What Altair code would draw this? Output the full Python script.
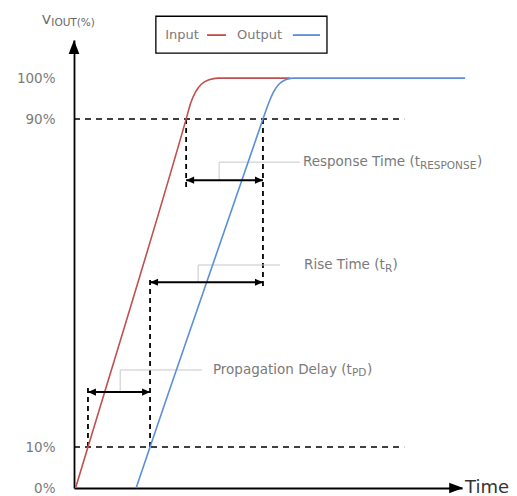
import altair as alt
import pandas as pd

# ---------------- values ----------------
# time axis in arbitrary units (0 = origin, 100 = end of axis), level in %
input_t = [0.4, 3.6, 28.9, 30.1, 31.3, 32.8, 34.8, 37.1, 55.7]
input_v = [0, 10, 90, 94, 96.6, 98.5, 99.6, 100, 100]
output_t = [16.0, 19.6, 48.7, 50.2, 51.4, 52.8, 54.5, 56.4, 100.8]
output_v = [0, 10, 90, 94, 96.6, 98.5, 99.6, 100, 100]

tick_values = [0, 10, 90, 100]
threshold_levels = [10, 90]
threshold_end = 85.1

# crossing times of the 10 % / 90 % thresholds
in10, out10, in90, out90 = 3.6, 19.6, 28.9, 48.7

# dashed drop lines
drop_t = [in10, out10, in90, out90]
drop_from = [10, 10, 90, 90]
drop_to = [24.9, 51.2, 73.4, 49.3]

# measurement arrows (Propagation, Rise, Response)
arrow_start = [in10, out10, in90]
arrow_end = [out10, out90, out90]
arrow_level = [23.4, 50.2, 75.1]

# leader lines and labels
leader_t = [11.9, 32.0, 37.4]
leader_level = [28.8, 54.4, 79.5]
leader_end = [33.0, 53.1, 58.2]
label_t = [35.8, 59.3, 59.0]
label_main = ["Propagation Delay (t", "Rise Time (t", "Response Time (t"]
label_sub = ["PD", "R", "RESPONSE"]

# legend box
legend_t = [21.1, 65.2]
legend_v = [106.1, 115.1]
legend_level = 110.5
legend_names = ["Input", "Output"]
legend_text_t = [23.5, 42.0]
swatch_start = [34.3, 56.4]
swatch_end = [39.2, 63.4]

# axis decorations
ytitle_pos = (-8.25, 114.1)
y_tip = (0, 109.3)
x_tip = (100.3, 0)
time_pos = (100.8, 0)

RED = "#c0504d"
BLUE = "#5b8fd8"
GRAY_TXT = "#7a7a7a"
LEADER = "#c8c8c8"
FONT = "DejaVu Sans"

# ---------------- scales / axes ----------------
xs = alt.Scale(domain=[0, 100], nice=False, zero=False)
ys = alt.Scale(domain=[0, 109.3], nice=False, zero=False)
xaxis = alt.Axis(labels=False, ticks=False, grid=False, title=None,
                 domainColor="black", domainWidth=1.8)
yaxis = alt.Axis(values=tick_values, labelExpr="datum.value + '%'", ticks=False,
                 grid=False, title=None, domainColor="black", domainWidth=1.8,
                 labelPadding=19, labelFontSize=13.5, labelColor=GRAY_TXT,
                 labelFont=FONT)


def X(f="t"):
    return alt.X(f"{f}:Q", scale=xs, axis=xaxis)


def Y(f="v"):
    return alt.Y(f"{f}:Q", scale=ys, axis=yaxis)


def segs(rows, **mark):
    df = pd.DataFrame(rows, columns=["t", "v", "t2", "v2"])
    return alt.Chart(df).mark_rule(**mark).encode(
        x=X(), y=Y(), x2=alt.X2("t2:Q"), y2=alt.Y2("v2:Q"))


def txt(t, v, s, size, color, dx=0, dy=0):
    df = pd.DataFrame({"t": [t], "v": [v], "s": [s]})
    return alt.Chart(df).mark_text(
        align="left", baseline="middle", dx=dx, dy=dy, fontSize=size,
        color=color, font=FONT).encode(x=X(), y=Y(), text="s:N")


def heads(ts, vs, shape, size):
    df = pd.DataFrame({"t": ts, "v": vs})
    return alt.Chart(df).mark_point(shape=shape, filled=True, size=size,
                                    color="black", opacity=1,
                                    strokeWidth=0).encode(x=X(), y=Y())


layers = []

# threshold dashed lines
layers.append(segs([(0, lv, threshold_end, lv) for lv in threshold_levels],
                   color="black", strokeWidth=1.5, strokeDash=[6, 5]))
# drop lines
layers.append(segs([(t, a, t, b) for t, a, b in zip(drop_t, drop_from, drop_to)],
                   color="black", strokeWidth=1.8, strokeDash=[5, 4]))
# leader lines
leader_rows = []
for lt, al, ll, le in zip(leader_t, arrow_level, leader_level, leader_end):
    leader_rows.append((lt, al, lt, ll))
    leader_rows.append((lt, ll, le, ll))
layers.append(segs(leader_rows, color=LEADER, strokeWidth=1))

# curves
for ts, vs, col in [(input_t, input_v, RED), (output_t, output_v, BLUE)]:
    df = pd.DataFrame({"t": ts, "v": vs})
    layers.append(alt.Chart(df).mark_line(color=col, strokeWidth=1.6,
                                          interpolate="monotone")
                  .encode(x=X(), y=Y()))

# measurement arrows
layers.append(segs([(a, lv, b, lv) for a, b, lv in
                    zip(arrow_start, arrow_end, arrow_level)],
                   color="black", strokeWidth=2))
layers.append(heads(arrow_end, arrow_level, "M0,0 L-1,-0.45 L-1,0.45 Z", 256))
layers.append(heads(arrow_start, arrow_level, "M0,0 L1,-0.45 L1,0.45 Z", 256))

# labels with subscripts
sub_dx = [139, 81, 117]
close_dx = [154, 88.5, 174]
for lt, ll, m, s, sdx, cdx in zip(label_t, leader_level, label_main, label_sub,
                                  sub_dx, close_dx):
    layers.append(txt(lt, ll, m, 13.5, GRAY_TXT))
    layers.append(txt(lt, ll, s, 10.5, GRAY_TXT, dx=sdx, dy=3.5))
    layers.append(txt(lt, ll, ")", 13.5, GRAY_TXT, dx=cdx))

# legend
ldf = pd.DataFrame({"t": [legend_t[0]], "t2": [legend_t[1]],
                    "v": [legend_v[0]], "v2": [legend_v[1]]})
layers.append(alt.Chart(ldf).mark_rect(fill="white", stroke="black",
                                       strokeWidth=1.3)
              .encode(x=X(), x2=alt.X2("t2:Q"), y=Y(), y2=alt.Y2("v2:Q")))
for name, tt in zip(legend_names, legend_text_t):
    layers.append(txt(tt, legend_level, name, 13, GRAY_TXT))
for a, b, col in zip(swatch_start, swatch_end, [RED, BLUE]):
    layers.append(segs([(a, legend_level, b, legend_level)], color=col,
                       strokeWidth=1.8))

# axis title pieces and arrow tips
layers.append(txt(ytitle_pos[0], ytitle_pos[1], "V", 13, "#666666"))
layers.append(txt(ytitle_pos[0], ytitle_pos[1], "IOUT(%)", 10.5, "#666666",
                  dx=9.3, dy=3))
layers.append(heads([y_tip[0]], [y_tip[1]], "M0,0 L0.38,1 L-0.38,1 Z", 784))
layers.append(heads([x_tip[0]], [x_tip[1]], "M0,0 L-1,-0.38 L-1,0.38 Z", 784))
layers.append(txt(time_pos[0], time_pos[1], "Time", 18, "#333333"))

chart = alt.layer(*layers).properties(
    width=388, height=448,
    padding={"left": 66, "top": 32, "right": 47, "bottom": 8},
    autosize=alt.AutoSizeParams(type="none"),
).configure_view(strokeWidth=0)

chart.save("out.html", embed_options={"renderer": "svg", "actions": False})
